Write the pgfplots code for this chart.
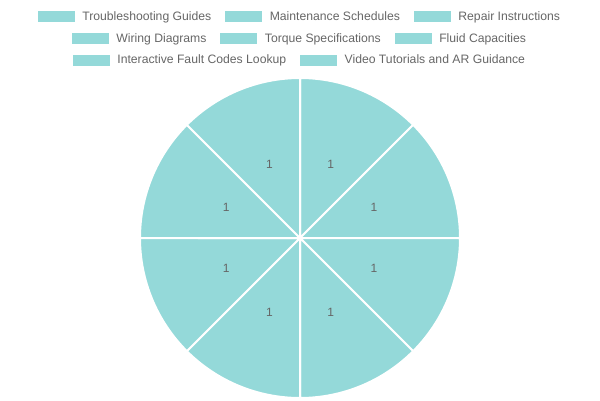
\documentclass[border=0pt]{standalone}
\usepackage{pgfplots}
\usepackage{pgfplotstable}
\usepackage{fontspec}
\setmainfont{Liberation Sans}
\pgfplotsset{compat=1.18}

\definecolor{slice}{RGB}{148,217,217}
\definecolor{txt}{RGB}{102,102,102}

% slice values (one per category)
\pgfplotstableread[col sep=comma]{
label,value
Troubleshooting Guides,1
Maintenance Schedules,1
Repair Instructions,1
Wiring Diagrams,1
Torque Specifications,1
Fluid Capacities,1
Interactive Fault Codes Lookup,1
Video Tutorials and AR Guidance,1
}\piedata

\pgfplotsset{
  legrow/.style={
    hide axis, scale only axis, width=10pt, height=10pt,
    xmin=0, xmax=1, ymin=0, ymax=1, anchor=center,
    legend columns=-1,
    legend style={at={(0.5,0.5)}, anchor=center, draw=none, fill=none,
      inner sep=0pt, font=\fontsize{12.2}{14}\selectfont\color{txt},
      /tikz/every odd column/.append style={column sep=6pt},
      /tikz/every even column/.append style={column sep=12pt}},
    legend image code/.code={\fill[slice] (0pt,-5pt) rectangle (36pt,5pt);},
  },
}

\begin{document}
\begin{tikzpicture}[x=1pt, y=1pt]
\path[use as bounding box] (0,0) rectangle (600,400);

\pgfplotstablegetrowsof{\piedata}
\pgfmathtruncatemacro{\nrows}{\pgfplotsretval-1}
\def\total{0}
\pgfplotsforeachungrouped \i in {0,...,\nrows}{%
  \pgfplotstablegetelem{\i}{value}\of\piedata
  \pgfmathsetmacro{\total}{\total+\pgfplotsretval}%
}

\begin{axis}[
  hide axis, scale only axis, width=320pt, height=320pt,
  xmin=-1, xmax=1, ymin=-1, ymax=1, clip=false,
  at={(300pt,162pt)}, anchor=center,
]
% wedges
\def\cum{0}
\pgfplotsforeachungrouped \i in {0,...,\nrows}{%
  \pgfplotstablegetelem{\i}{value}\of\piedata
  \let\v\pgfplotsretval
  \pgfmathsetmacro{\s}{90-360*\cum/\total}%
  \pgfmathsetmacro{\e}{\s-360*\v/\total}%
  \pgfmathsetmacro{\xs}{cos(\s)}%
  \pgfmathsetmacro{\ys}{sin(\s)}%
  \edef\temp{%
    \noexpand\filldraw[fill=slice, draw=white, line width=2pt, line join=round]
      (axis cs:0,0) -- (axis cs:\xs,\ys)
      arc[start angle=\s, end angle=\e, radius=160pt] -- cycle;
  }\temp
  \pgfmathsetmacro{\cum}{\cum+\v}%
}
% value labels
\def\cum{0}
\pgfplotsforeachungrouped \i in {0,...,\nrows}{%
  \pgfplotstablegetelem{\i}{value}\of\piedata
  \let\v\pgfplotsretval
  \pgfmathsetmacro{\s}{90-360*\cum/\total}%
  \pgfmathsetmacro{\e}{\s-360*\v/\total}%
  \pgfmathsetmacro{\m}{(\s+\e)/2}%
  \pgfmathsetmacro{\xm}{0.5*cos(\m)}%
  \pgfmathsetmacro{\ym}{0.5*sin(\m)}%
  \pgfmathtruncatemacro{\vl}{\v}%
  \edef\temp{%
    \noexpand\node[text=txt, font=\noexpand\fontsize{12}{14}\noexpand\selectfont]
      at (axis cs:\xm,\ym) {\vl};
  }\temp
  \pgfmathsetmacro{\cum}{\cum+\v}%
}
\end{axis}

% legend, three centred rows
\begin{axis}[legrow, at={(300pt,383.5pt)}]
\addlegendimage{}\addlegendentry{Troubleshooting Guides}
\addlegendimage{}\addlegendentry{Maintenance Schedules}
\addlegendimage{}\addlegendentry{Repair Instructions}
\end{axis}
\begin{axis}[legrow, at={(300pt,361.5pt)}]
\addlegendimage{}\addlegendentry{Wiring Diagrams}
\addlegendimage{}\addlegendentry{Torque Specifications}
\addlegendimage{}\addlegendentry{Fluid Capacities}
\end{axis}
\begin{axis}[legrow, at={(300pt,340pt)}]
\addlegendimage{}\addlegendentry{Interactive Fault Codes Lookup}
\addlegendimage{}\addlegendentry{Video Tutorials and AR Guidance}
\end{axis}
\end{tikzpicture}
\end{document}
